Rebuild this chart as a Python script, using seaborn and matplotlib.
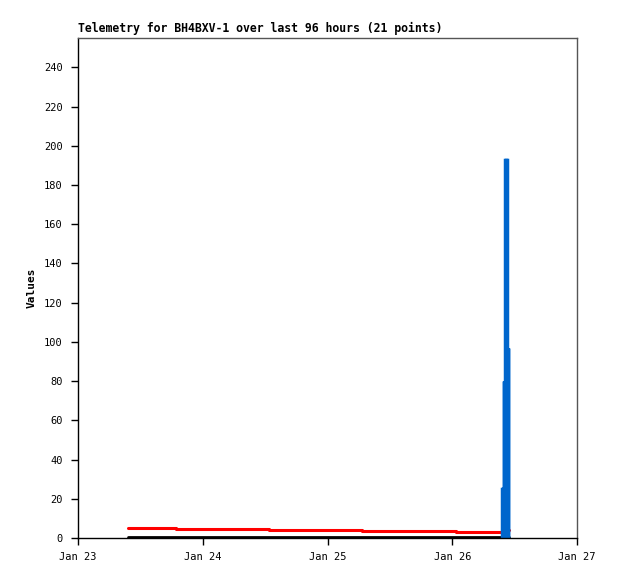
import pandas as pd
import numpy as np
import matplotlib
matplotlib.use("Agg")
import matplotlib.pyplot as plt
import matplotlib.dates as mdates
import seaborn as sns

# hours after Jan 23 00:00 for the 21 telemetry points
hours = [9.7, 18.9, 36.7, 54.7, 72.7,
         81.5, 81.6, 81.7, 81.8, 81.9, 82.0, 82.1, 82.2, 82.3, 82.4,
         82.5, 82.6, 82.7, 82.8, 82.9, 83.0]
red_vals = [5.1, 4.5, 4.0, 3.5, 2.9,
            2.9, 4.2, 4.2, 4.2, 4.2, 4.2, 4.2, 4.2, 4.2, 4.2,
            4.2, 4.2, 4.2, 4.2, 4.2, 4.2]
black_vals = [0.5] * 21
blue_vals = [np.nan, np.nan, np.nan, np.nan, np.nan,
             0, 25, 0, 25, 80, 0, 80, 193, 0, 193,
             97, 0, 97, 0, 0, 0]

start = pd.Timestamp("2025-01-23")
df = pd.DataFrame({
    "time": [start + pd.Timedelta(hours=h) for h in hours],
    "red": red_vals,
    "black": black_vals,
    "blue": blue_vals,
})

sns.set_style("white")
plt.rcParams["font.family"] = ["DejaVu Sans Mono", "DejaVu Sans"]
plt.rcParams["text.color"] = "black"
plt.rcParams["axes.labelcolor"] = "black"
plt.rcParams["xtick.color"] = "black"
plt.rcParams["ytick.color"] = "black"

fig = plt.figure(figsize=(6.18, 5.79), dpi=100)
ax = fig.add_axes([78 / 618, 41 / 579, 499 / 618, 500 / 579])

sns.lineplot(data=df, x="time", y="black", color="black", lw=2,
             drawstyle="steps-post", estimator=None, ax=ax)
sns.lineplot(data=df, x="time", y="red", color="#ff0000", lw=2.2,
             drawstyle="steps-post", estimator=None, ax=ax)
sns.lineplot(data=df.dropna(), x="time", y="blue", color="#0066cc", lw=2.5,
             drawstyle="steps-post", estimator=None, ax=ax,
             solid_capstyle="butt", solid_joinstyle="miter")

ax.set_xlim(pd.Timestamp("2025-01-23"), pd.Timestamp("2025-01-27"))
ax.set_ylim(0, 255)
ax.set_yticks(range(0, 241, 20))
ax.xaxis.set_major_locator(mdates.DayLocator())
ax.xaxis.set_major_formatter(mdates.DateFormatter("%b %d"))

ax.tick_params(axis="both", direction="out", length=5, width=1,
               labelsize=7.5, color="black", labelcolor="black",
               bottom=True, left=True)
ax.tick_params(axis="y", pad=6)
ax.tick_params(axis="x", pad=5)

for s in ["left", "bottom"]:
    ax.spines[s].set_color("black")
    ax.spines[s].set_linewidth(1)
for s in ["top", "right"]:
    ax.spines[s].set_color("#555555")
    ax.spines[s].set_linewidth(1)

ax.set_xlabel("")
ax.set_ylabel("Values", fontsize=8, fontweight="bold", color="black")
ax.yaxis.set_label_coords(-0.082, 0.5)
ax.set_title("Telemetry for BH4BXV-1 over last 96 hours (21 points)",
             loc="left", fontsize=8.3, fontweight="bold", pad=4, color="black")

fig.savefig("out.png", dpi=100)
